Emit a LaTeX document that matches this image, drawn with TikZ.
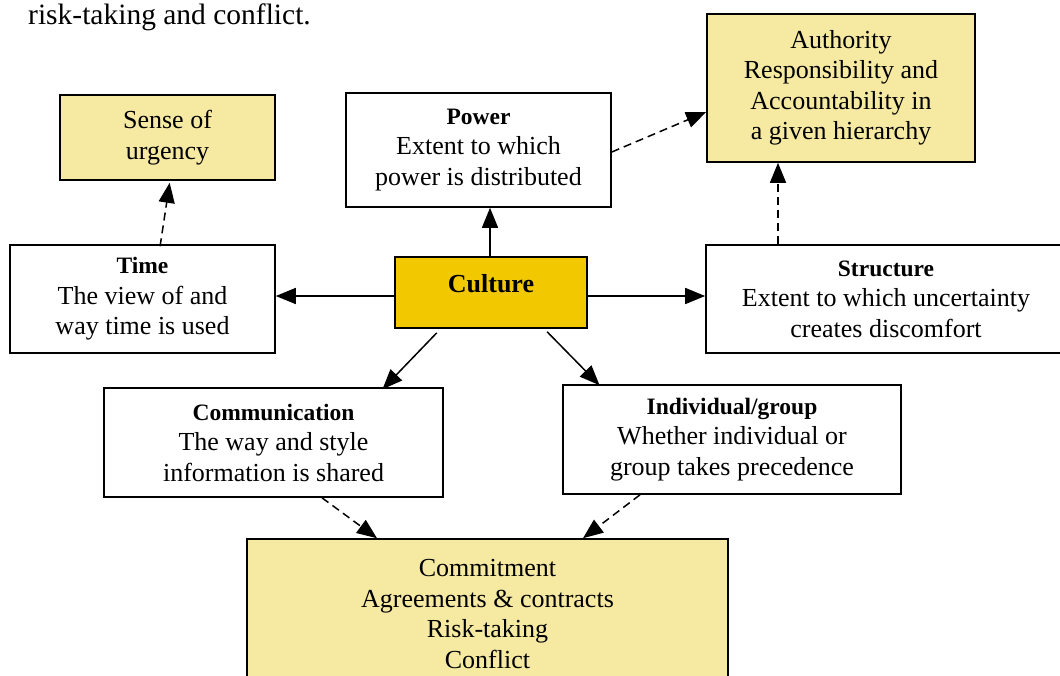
\documentclass[tikz,border=0pt]{standalone}
\usepackage{fontspec}
\setmainfont{Liberation Serif}
\usetikzlibrary{arrows.meta,calc}
\definecolor{lightyel}{RGB}{246,234,163}
\definecolor{cultyel}{RGB}{242,201,0}
\newcommand{\hd}[1]{{\fontsize{23.5}{28}\selectfont\bfseries #1}}
\tikzset{
  box/.style={draw=black, line width=1.6pt, rectangle, align=center, inner sep=0pt,
    font=\fontsize{26}{30.5}\selectfont},
  ybox/.style={box, fill=lightyel},
  solidarr/.style={line width=1.5pt, -{Triangle[length=20pt,width=16pt]}},
  dasharr/.style={line width=1.5pt, dash pattern=on 8pt off 5pt, -{Triangle[length=20pt,width=16pt]}},
}
\begin{document}
\begin{tikzpicture}[x=1pt,y=-1pt]
\useasboundingbox (0,0) rectangle (1060,675);
\clip (0,0) rectangle (1060,675);
\node[anchor=base west, inner sep=0pt, font=\fontsize{29.5}{32}\selectfont] (intro) at (28,24) {risk-taking and conflict.};

\node[ybox, minimum width=215pt, minimum height=85pt] (urg) at (167.5,137.5) {Sense of\\urgency};
\node[box, fill=white, minimum width=265pt, minimum height=114pt] (power) at (478.5,150) {\hd{Power}\\Extent to which\\power is distributed};
\node[ybox, minimum width=268pt, minimum height=148pt] (auth) at (841,88) {Authority\\Responsibility and\\Accountability in\\a given hierarchy};
\node[box, fill=white, minimum width=265pt, minimum height=108pt] (time) at (142.5,299) {\hd{Time}\\The view of and\\way time is used};
\node[box, fill=cultyel, minimum width=192pt, minimum height=71pt, text height=10pt, text depth=10pt, font=\fontsize{26}{30}\selectfont\bfseries] (culture) at (491,292.5) {Culture};
\node[box, fill=white, minimum width=360pt, minimum height=108pt] (struct) at (886,299) {\hd{Structure}\\Extent to which uncertainty\\creates discomfort};
\node[box, fill=white, minimum width=339pt, minimum height=109pt] (comm) at (273.5,442.5) {\hd{Communication}\\The way and style\\information is shared};
\node[box, fill=white, minimum width=338pt, minimum height=109pt] (indiv) at (732,439.5) {\hd{Individual/group}\\Whether individual or\\group takes precedence};
\node[ybox, minimum width=481pt, minimum height=150pt] (commit) at (487.5,614) {Commitment\\Agreements \& contracts\\Risk-taking\\Conflict};

\coordinate (cn) at ([xshift=-1pt]culture.north);
\coordinate (cw) at ([yshift=-3.5pt]culture.west);
\coordinate (ce) at ([yshift=-3.5pt]culture.east);
\draw[solidarr] (cn) -- (cn |- power.south);
\draw[solidarr] (cw) -- (cw -| time.east);
\draw[solidarr] (ce) -- (ce -| struct.west);
\draw[solidarr] ([yshift=-4pt]$(culture.south west)!0.22!(culture.south east)$) -- ([yshift=-2pt]$(comm.north west)!0.82!(comm.north east)$);
\draw[solidarr] ([yshift=-3pt]$(culture.south west)!0.79!(culture.south east)$) -- ([yshift=-1pt]$(indiv.north west)!0.11!(indiv.north east)$);

\draw[dasharr] ([yshift=-2pt]$(time.north west)!0.566!(time.north east)$) -- ([yshift=-2pt]$(urg.south west)!0.51!(urg.south east)$);
\draw[dasharr] ([yshift=-2pt]power.east) -- ([yshift=-24pt]auth.west);
\draw[dasharr] ([xshift=-108pt]struct.north) -- ([xshift=-63pt]auth.south);
\draw[dasharr] ([xshift=48.5pt]comm.south) -- ([xshift=-110.5pt]commit.north);
\draw[dasharr] ([xshift=-92pt]indiv.south) -- ([xshift=95.5pt]commit.north);
\end{tikzpicture}
\end{document}
